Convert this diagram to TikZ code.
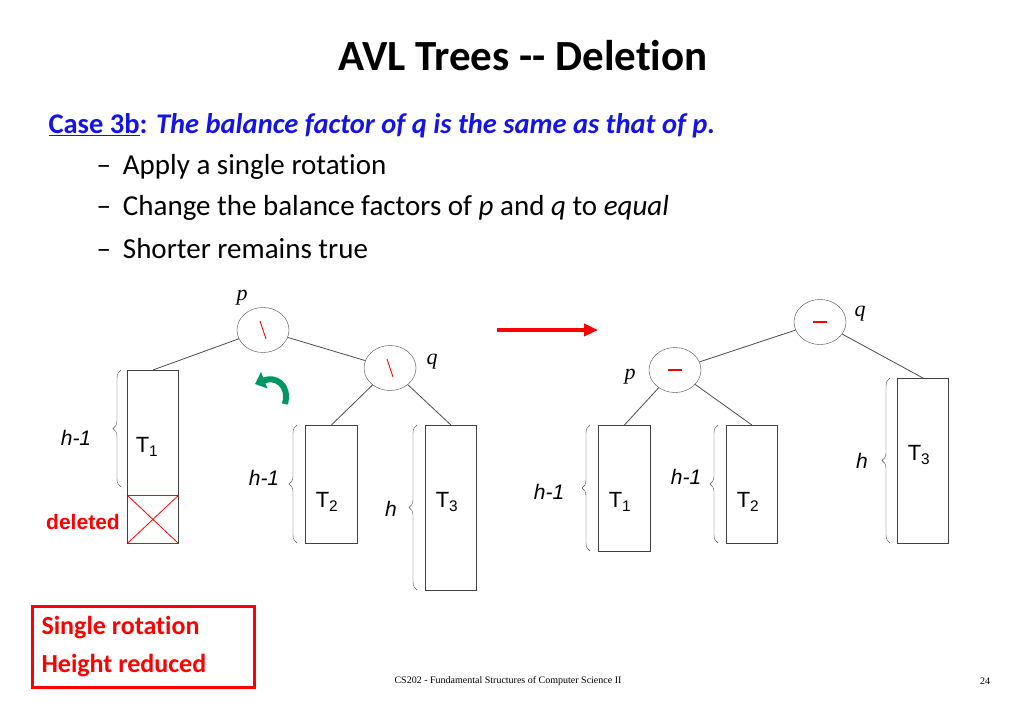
\documentclass[tikz,border=0pt]{standalone}
\usepackage{fontspec}
\setmainfont{Carlito}[Ligatures=NoCommon]
\newfontfamily\arialfont{Liberation Sans}
\newfontfamily\timesfont{Liberation Serif}
\usetikzlibrary{decorations.pathreplacing,arrows.meta,positioning,shapes.geometric}
\definecolor{caseblue}{RGB}{20,20,230}
\definecolor{rotgreen}{RGB}{0,150,100}
\begin{document}
\begin{tikzpicture}[x=1pt, y=-1pt,
    bal/.style={draw=black!70, ellipse, minimum width=52pt, minimum height=45pt, inner sep=0pt, fill=white},
    subtree/.style={draw=black!75, thick, anchor=north west, inner sep=0pt},
    tlabel/.style={font=\arialfont\fontsize{22}{24}\selectfont},
    hlabel/.style={font=\arialfont\itshape\fontsize{21}{24}\selectfont},
    vlabel/.style={font=\timesfont\itshape\fontsize{22}{24}\selectfont},
    hbrace/.style={decorate, decoration={brace, amplitude=8pt}, black!70},
    edge/.style={draw=black!70, thick}]
  \useasboundingbox (0,0) rectangle (1024,709);
  % title and text
  \node[font=\bfseries\fontsize{43}{46}\selectfont] (title) at (523,56) {AVL Trees -{}- Deletion};
  \node[anchor=west, font=\fontsize{28.5}{32}\selectfont] (case) at (45,126)
    {\textcolor{caseblue}{\bfseries\underline{Case 3b}: \itshape The balance factor of q is the same as that of p.}};
  \foreach \t [count=\i] in {Apply a single rotation,
      Change the balance factors of \textit{p} and \textit{q} to \textit{equal},
      Shorter remains true}{
    \node[anchor=west, font=\fontsize{29}{32}\selectfont] (item\i) at (93,126+41*\i) {--\hspace{12pt}\t};
  }
  % left tree
  \node[bal] (p) at (263,330) {};
  \node[bal] (q) at (390,368) {};
  \draw[red, thick] ([shift={(-3,-9)}]p.center) -- ([shift={(3,9)}]p.center);
  \draw[red, thick] ([shift={(-3,-9)}]q.center) -- ([shift={(3,9)}]q.center);
  \node[vlabel] (plab) at (242,298) {p};
  \node[vlabel] (qlab) at (432,362) {q};
  \node[subtree, minimum width=51pt, minimum height=125pt] (T1) at (127,370) {};
  \node[subtree, draw=red, minimum width=51pt, minimum height=48pt] (del) at (127,495) {};
  \draw[red, thick] (del.north west) -- (del.south east) (del.north east) -- (del.south west);
  \draw[thick, black!75] (del.north west) -- (del.south west) (del.north east) -- (del.south east);
  \node[subtree, minimum width=52pt, minimum height=118pt] (T2) at (305,425) {};
  \node[subtree, minimum width=51pt, minimum height=165pt] (T3) at (425,425) {};
  \node[tlabel] at (147,447) {T\textsubscript{1}};
  \node[tlabel] at (327,502) {T\textsubscript{2}};
  \node[tlabel] at (447,502) {T\textsubscript{3}};
  \draw[edge] (p) -- (T1.north); \draw[edge] (p) -- (q);
  \draw[edge] (q) -- (T2.north); \draw[edge] (q) -- (T3.north);
  \draw[hbrace] (121,487) -- (121,370);
  \draw[hbrace] (297,543) -- (297,425);
  \draw[hbrace] (417,590) -- (417,425);
  \node[hlabel] at (76,438) {h-1};
  \node[hlabel] at (264,478) {h-1};
  \node[hlabel] at (391,509) {h};
  \node[font=\arialfont\bfseries\fontsize{21}{22}\selectfont, text=red] at (83,522) {deleted};
  \draw[line width=6pt, rotgreen, -{Triangle[width=17pt,length=10pt]}]
    (285,404) .. controls (290,384) and (275,376) .. (255,384);
  % arrow
  \draw[line width=4pt, red, -{Triangle[width=12pt,length=14pt]}] (497,330) -- (598,330);
  % right tree
  \node[bal] (q2) at (820,322) {};
  \node[bal] (p2) at (675,370) {};
  \draw[red, line width=2.5pt] ([xshift=-7pt]q2.center) -- ([xshift=7pt]q2.center);
  \draw[red, line width=2.5pt] ([xshift=-7pt]p2.center) -- ([xshift=7pt]p2.center);
  \node[vlabel] (q2lab) at (860,314) {q};
  \node[vlabel] (p2lab) at (630,377) {p};
  \node[subtree, minimum width=51pt, minimum height=165pt] (R3) at (897,378) {};
  \node[subtree, minimum width=52pt, minimum height=126pt] (R1) at (598,425) {};
  \node[subtree, minimum width=51pt, minimum height=118pt] (R2) at (726,425) {};
  \node[tlabel] at (919,455) {T\textsubscript{3}};
  \node[tlabel] at (620,502) {T\textsubscript{1}};
  \node[tlabel] at (748,502) {T\textsubscript{2}};
  \draw[edge] (q2) -- (p2); \draw[edge] (q2) -- (R3.north);
  \draw[edge] (p2) -- (R1.north); \draw[edge] (p2) -- (R2.north);
  \draw[hbrace] (890,543) -- (890,378);
  \draw[hbrace] (590,551) -- (590,425);
  \draw[hbrace] (718,543) -- (718,425);
  \node[hlabel] at (862,461) {h};
  \node[hlabel] at (549,492) {h-1};
  \node[hlabel] at (686,477) {h-1};
  % bottom
  \node[draw=red, line width=2.5pt, anchor=north west, minimum width=222pt, minimum height=81pt] (box) at (31,605) {};
  \node[anchor=west, text=red, font=\bfseries\fontsize{26}{28}\selectfont] at (38,628) {Single rotation};
  \node[anchor=west, text=red, font=\bfseries\fontsize{26}{28}\selectfont] at (38,666) {Height reduced};
  \node[font=\timesfont\fontsize{10}{12}\selectfont] (foot) at (508,681) {CS202 - Fundamental Structures of Computer Science II};
  \node[font=\timesfont\fontsize{10}{12}\selectfont] (page) at (985,681) {24};
\end{tikzpicture}
\end{document}
